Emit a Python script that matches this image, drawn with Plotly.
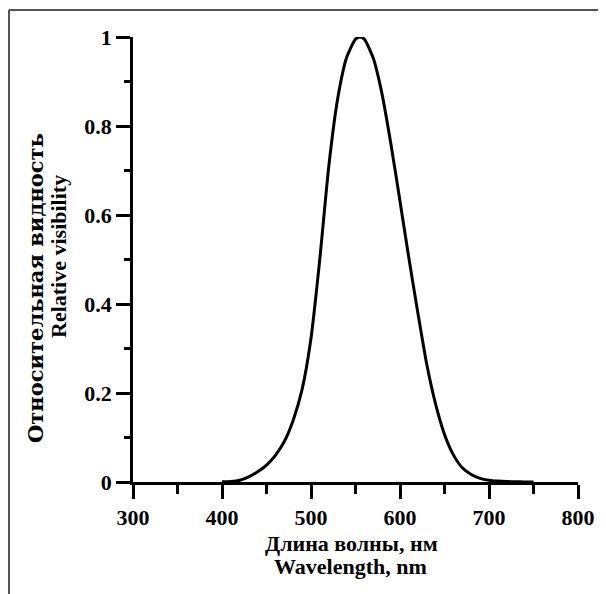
import plotly.graph_objects as go

# Relative visibility (photopic luminosity)
wavelength = [400, 410, 420, 430, 440, 450, 460, 470, 480, 490, 500, 510, 520, 530, 540,
              550, 555, 560, 570, 580, 590, 600, 610, 620, 630, 640, 650, 660, 670, 680,
              690, 700, 710, 720, 730, 740, 750]
visibility = [0.0004, 0.0012, 0.004, 0.0116, 0.023, 0.038, 0.060, 0.091, 0.139, 0.208,
              0.323, 0.503, 0.710, 0.862, 0.954, 0.995, 1.000, 0.995, 0.952, 0.870,
              0.757, 0.631, 0.503, 0.381, 0.265, 0.175, 0.107, 0.061, 0.032, 0.017,
              0.0082, 0.0041, 0.0021, 0.00105, 0.00052, 0.00025, 0.00012]

x_ticks = [300, 400, 500, 600, 700, 800]
y_ticks = [0, 0.2, 0.4, 0.6, 0.8, 1]
y_tick_text = ["0", "0.2", "0.4", "0.6", "0.8", "1"]

FONT = "Liberation Serif, Times New Roman, serif"
WIDE_FONT = "DejaVu Serif, serif"

fig = go.Figure()
fig.add_trace(go.Scatter(x=wavelength, y=visibility, mode="lines",
                         line=dict(color="black", width=3, shape="spline", smoothing=0.6),
                         hoverinfo="skip"))

# page body has an 8px margin: figure is drawn at (8, 8) in the window
OFF = 8
W, H = 606 - OFF, 594 - OFF
X0, X1, Y0, Y1 = 133, 578, 37, 482   # plot area in window pixels
ml, mr, mt, mb = X0 - OFF, W - (X1 - OFF), Y0 - OFF, H - (Y1 - OFF)

def px(wx):
    return (wx - X0) / (X1 - X0)

def py(wy):
    return (Y1 - wy) / (Y1 - Y0)

def ann(text, x, y, size, family=FONT, angle=0):
    return dict(text=text, xref="paper", yref="paper", x=px(x), y=py(y),
                xanchor="center", yanchor="middle", textangle=angle, showarrow=False,
                font=dict(family=family, size=size, color="black", weight="bold"))

fig.update_layout(
    width=W, height=H,
    margin=dict(l=ml, r=mr, t=mt, b=mb, pad=0),
    paper_bgcolor="white", plot_bgcolor="white",
    showlegend=False,
    font=dict(family=FONT, size=22, color="black", weight="bold"),
    xaxis=dict(range=[300, 800], tickvals=x_ticks, showgrid=False, zeroline=False,
               showline=True, linecolor="black", linewidth=2.5,
               ticks="outside", ticklen=14, tickwidth=2.5, tickcolor="black",
               minor=dict(dtick=50, ticks="outside", ticklen=9, tickwidth=2.5, tickcolor="black"),
               tickfont=dict(family=FONT, size=22, color="black", weight="bold")),
    yaxis=dict(range=[0, 1], tickvals=y_ticks, ticktext=y_tick_text, showgrid=False, zeroline=False,
               showline=True, linecolor="black", linewidth=2.5,
               ticks="outside", ticklen=14, tickwidth=2.5, tickcolor="black",
               minor=dict(dtick=0.1, ticks="outside", ticklen=6, tickwidth=2.5, tickcolor="black"),
               tickfont=dict(family=FONT, size=22, color="black", weight="bold")),
    annotations=[
        ann("Длина волны, нм", 351, 543, 22),
        ann("Wavelength, nm", 350, 566, 22),
        ann("Относительная видность", 35, 288, 21, family=WIDE_FONT, angle=-90),
        ann("Relative visibility", 58, 257, 22, angle=-90),
    ],
    shapes=[
        dict(type="line", xref="paper", yref="paper",
             x0=px(9), y0=py(10), x1=px(606), y1=py(10),
             line=dict(color="#555555", width=2)),
        dict(type="line", xref="paper", yref="paper",
             x0=px(9), y0=py(10), x1=px(9), y1=py(594),
             line=dict(color="#555555", width=2)),
    ],
)

fig.write_html("out.html")
